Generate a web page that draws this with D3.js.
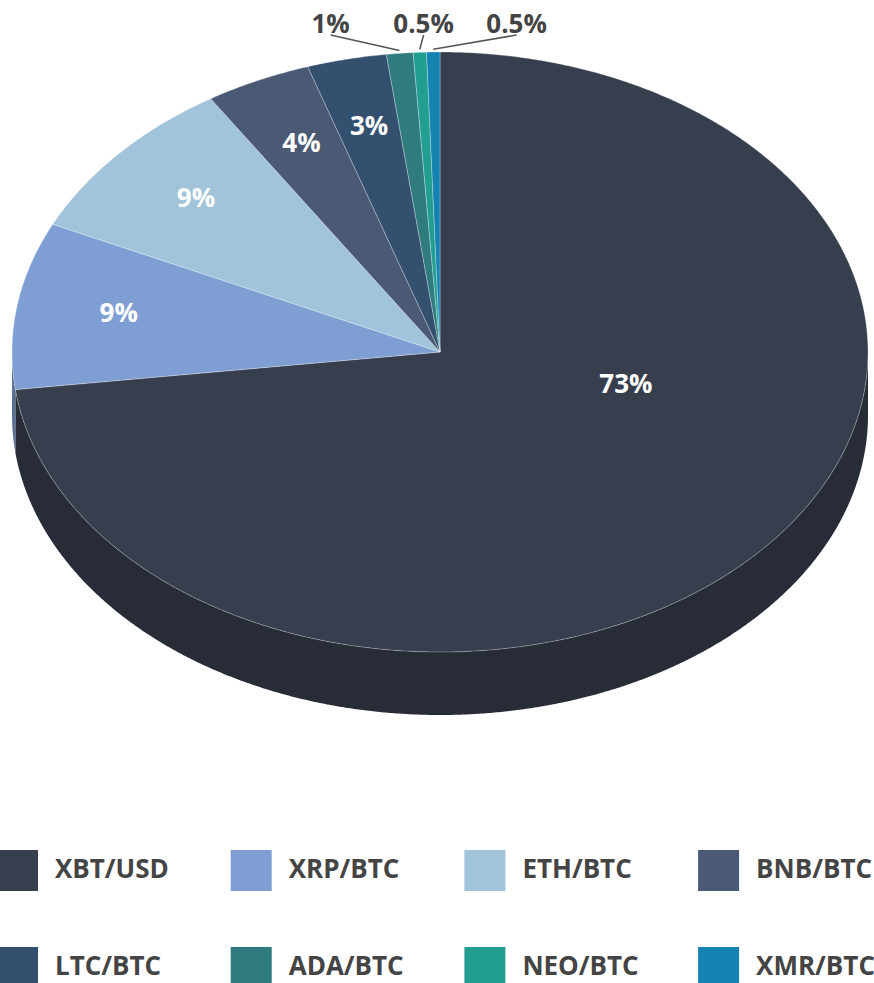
<!DOCTYPE html>
<html>
<head>
<meta charset="utf-8">
<script src="https://cdn.jsdelivr.net/npm/d3@7"></script>
<style>
  body { margin: 0; background: #fff; }
  text { font-family: "Open Sans", sans-serif; font-weight: 700; }
</style>
</head>
<body>
<script>
// data
var pairs  = ["XBT/USD", "XRP/BTC", "ETH/BTC", "BNB/BTC", "LTC/BTC", "ADA/BTC", "NEO/BTC", "XMR/BTC"];
var shares = [73, 9, 9, 4, 3, 1, 0.5, 0.5];
var labels = ["73%", "9%", "9%", "4%", "3%", "1%", "0.5%", "0.5%"];
var colors = ["#373f4f", "#7f9fd4", "#a1c4db", "#4b5a74", "#34506f", "#2f7b7e", "#229e91", "#1483b2"];

var width = 874, height = 983;
var cx = 440, cy = 352, rx = 428, ry = 300, depth = 63;

var svg = d3.select("body")
        .append("svg")
        .attr("width", width)
        .attr("height", height);

var data = pairs.map(function(p, i) {
  return { pair: p, share: shares[i], label: labels[i], color: colors[i] };
});

var arcs = d3.pie()
        .sort(null)
        .value(function(d) { return d.share; })(data);

// unit radius -> screen
var xs = d3.scaleLinear().domain([-1, 1]).range([cx - rx, cx + rx]);
var ys = d3.scaleLinear().domain([-1, 1]).range([cy - ry, cy + ry]);

function pt(a, r, dy) {
  return [xs(r * Math.sin(a)), ys(-r * Math.cos(a)) + (dy || 0)];
}

function arcPoints(a0, a1, dy) {
  var n = Math.max(2, Math.ceil((a1 - a0) / 0.005));
  return d3.range(n + 1).map(function(k) { return pt(a0 + (a1 - a0) * k / n, 1, dy); });
}

var line = d3.line();

// side walls (front half only)
svg.selectAll(".side")
  .data(arcs)
  .enter()
  .each(function(d) {
    var a0 = Math.max(d.startAngle, Math.PI / 2),
        a1 = Math.min(d.endAngle, 3 * Math.PI / 2);
    if (a1 <= a0) return;
    var pts = arcPoints(a0, a1, 0).concat(arcPoints(a0, a1, depth).reverse());
    d3.select(this).append("path")
      .attr("class", "side")
      .attr("d", line(pts) + "Z")
      .style("fill", d3.color(d.data.color).darker(1));
  });

// top faces
svg.selectAll(".top")
  .data(arcs)
  .enter()
  .append("path")
  .attr("class", "top")
  .attr("d", function(d) {
    return line([[cx, cy]].concat(arcPoints(d.startAngle, d.endAngle, 0))) + "Z";
  })
  .style("fill", function(d) { return d.data.color; })
  .style("stroke", "rgba(255,255,255,0.35)")
  .style("stroke-width", 0.8);

// inside labels
var inner = arcs.filter(function(d) { return d.data.share > 2; });
svg.selectAll(".in-label")
  .data(inner)
  .enter()
  .append("text")
  .attr("class", "in-label")
  .attr("text-anchor", "middle")
  .attr("font-size", 26)
  .attr("fill", "#fff")
  .attr("transform", function(d) {
    var a, r;
    if (d.data.share > 50) {
      a = d.startAngle + 0.4 * (d.endAngle - d.startAngle); r = 0.45;
    } else {
      a = (d.startAngle + d.endAngle) / 2; r = 0.76;
    }
    var p = pt(a, r);
    return "translate(" + p[0] + "," + (p[1] + 6) + ")";
  })
  .text(function(d) { return d.data.label; });

// outside labels with connectors
var outer = arcs.filter(function(d) { return d.data.share <= 2; });
var anchorX = d3.mean(outer, function(d) { return pt((d.startAngle + d.endAngle) / 2, 1)[0]; }) + 6;
var spread = 93, labelY = 33;

outer.forEach(function(d, i) {
  var a = (d.startAngle + d.endAngle) / 2;
  var p = pt(a, 1.006);
  var lx = anchorX + (i - (outer.length - 1) / 2) * spread;
  svg.append("line")
    .attr("x1", p[0]).attr("y1", p[1] - 1)
    .attr("x2", lx).attr("y2", labelY + 2)
    .style("stroke", "#555")
    .style("stroke-width", 1.5);
  svg.append("text")
    .attr("x", lx)
    .attr("y", labelY)
    .attr("text-anchor", "middle")
    .attr("font-size", 26)
    .attr("fill", "#444")
    .text(d.data.label);
});

// legend
var legend = svg.selectAll(".legend")
  .data(data)
  .enter()
  .append("g")
  .attr("class", "legend")
  .attr("transform", function(d, i) {
    return "translate(" + (-3 + (i % 4) * 233.7) + "," + (850 + Math.floor(i / 4) * 97) + ")";
  });

legend.append("rect")
  .attr("width", 41)
  .attr("height", 41)
  .style("fill", function(d) { return d.color; });

legend.append("text")
  .attr("x", 58)
  .attr("y", 28)
  .attr("font-size", 26)
  .attr("fill", "#444")
  .text(function(d) { return d.pair; });
</script>
</body>
</html>
